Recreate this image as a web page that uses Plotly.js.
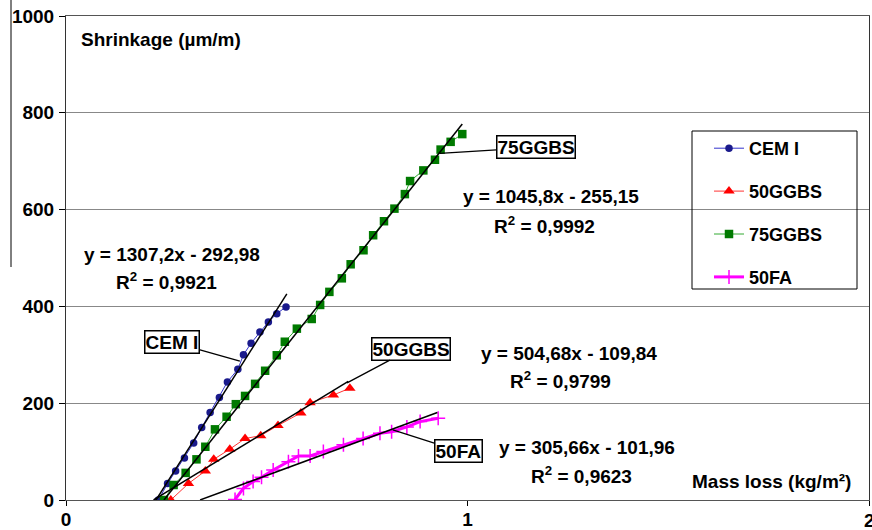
<!DOCTYPE html>
<html>
<head>
<meta charset="utf-8">
<script src="https://cdn.plot.ly/plotly-3.0.1.min.js"></script>
<style>html,body{margin:0;padding:0;background:#fff;}#chart{width:872px;height:530px;}</style>
</head>
<body>
<div id="chart"></div>
<script>
// ---- data ----
const seriesNames = ["CEM I", "50GGBS", "75GGBS", "50FA"];

const cemX = [0.230,0.253,0.273,0.295,0.318,0.338,0.359,0.382,0.402,0.428,0.442,0.461,0.483,0.504,0.525,0.548];
const cemY = [0,34,60,87,118,150,181,212,244,270,300,324,347,368,385,399];

const g50X = [0.261,0.305,0.347,0.368,0.408,0.446,0.485,0.528,0.585,0.608,0.666,0.707];
const g50Y = [0,34,60,84,105,127,133,154,180,201,217,231];

const g75X = [0.244,0.268,0.298,0.325,0.347,0.371,0.400,0.423,0.446,0.471,0.496,0.525,0.545,0.575,0.612,0.633,0.656,0.687,0.709,0.741,0.765,0.792,0.818,0.844,0.857,0.890,0.919,0.933,0.958,0.987];
const g75Y = [0,31,56,84,110,146,172,198,215,240,267,299,327,354,374,403,430,458,487,516,547,576,602,632,659,681,703,724,740,756];

const faX = [0.421,0.442,0.466,0.487,0.516,0.554,0.579,0.608,0.641,0.691,0.740,0.782,0.811,0.849,0.882,0.927];
const faY = [1,24,38,47,62,79,91,91,100,114,127,138,141,151,162,169];

// linear fits shown on the chart: slope, intercept, x-extent of drawn line
const fitSlope = [1307.2, 504.68, 1045.8, 305.66];
const fitIntercept = [-292.98, -109.84, -255.15, -101.96];
const fitXStart = [0.222, 0.218, 0.244, 0.334];
const fitXEnd = [0.550, 0.703, 0.987, 0.925];
const fitEqText = ["y = 1307,2x - 292,98", "y = 504,68x - 109,84", "y = 1045,8x - 255,15", "y = 305,66x - 101,96"];
const fitR2Text = ["R<sup>2</sup> = 0,9921", "R<sup>2</sup> = 0,9799", "R<sup>2</sup> = 0,9992", "R<sup>2</sup> = 0,9623"];

const xTicks = [0, 1, 2];
const xTickText = ["0", "1", ""];   // "2" sits on the page edge, drawn as a text below
const yTicks = [0, 200, 400, 600, 800, 1000];

// ---- styling ----
const FONT = "Arial, 'Liberation Sans', sans-serif";
const colors = ["#1a1a8c", "#ff0000", "#007a00", "#ff00ff"];
const lineColors = ["#3333cc", "#ff3333", "#33aa33", "#ff00ff"];
const lineW = [1, 1, 1, 3];
const symbols = ["circle", "triangle-up", "square", "cross-thin"];
const msize = [7.5, 10, 8.5, 10];
const xs = [cemX, g50X, g75X, faX];
const ys = [cemY, g50Y, g75Y, faY];

const traces = [];
for (let i = 0; i < 4; i++) {
  traces.push({
    x: xs[i], y: ys[i], type: "scatter", mode: "lines+markers",
    name: seriesNames[i], legendgroup: "g" + i,
    line: {color: lineColors[i], width: lineW[i]},
    marker: {symbol: symbols[i], size: msize[i], color: colors[i],
             line: {color: colors[i], width: i === 3 ? 1.5 : 0}}
  });
}
for (let i = 0; i < 4; i++) {
  const fx = [fitXStart[i], fitXEnd[i]];
  traces.push({
    x: fx, y: fx.map(v => fitSlope[i] * v + fitIntercept[i]),
    type: "scatter", mode: "lines", showlegend: false, hoverinfo: "skip",
    line: {color: "#000", width: 1.5}
  });
}

// pixel -> paper helpers for text placement (plot area 66..869 x, 16..500 y)
const PX = p => (p - 66) / 803;
const PY = p => (500 - p) / 484;

const bold = {family: FONT, size: 19, color: "#000", weight: "bold"};
const eqPos = [[172, 254, 166, 281], [569, 353, 560, 380], [551, 196, 544, 225], [587, 447, 581, 475]];
const annotations = [];
for (let i = 0; i < 4; i++) {
  annotations.push({xref: "paper", yref: "paper", x: PX(eqPos[i][0]), y: PY(eqPos[i][1]),
    text: fitEqText[i], showarrow: false, font: bold, xanchor: "center", yanchor: "middle"});
  annotations.push({xref: "paper", yref: "paper", x: PX(eqPos[i][2]), y: PY(eqPos[i][3]),
    text: fitR2Text[i], showarrow: false, font: bold, xanchor: "center", yanchor: "middle"});
}
// boxed labels with leader lines (tip in data coords, offset in px)
const boxTip = [[0.433, 287, -68, -19], [0.700, 242, 64, -34], [0.931, 716, 96, -6], [0.814, 145, 66, 21]];
const boxText = ["CEM I", "50GGBS", "75GGBS", "50FA"];
for (let i = 0; i < 4; i++) {
  annotations.push({x: boxTip[i][0], y: boxTip[i][1], xref: "x", yref: "y",
    ax: boxTip[i][2], ay: boxTip[i][3], text: boxText[i], showarrow: true,
    arrowhead: 0, arrowwidth: 1.3, arrowcolor: "#000", font: bold,
    bordercolor: "#000", borderwidth: 1.5, borderpad: 0, bgcolor: "#fff"});
}
annotations.push({xref: "paper", yref: "paper", x: PX(79), y: PY(40), text: "Shrinkage (µm/m)",
  showarrow: false, xanchor: "left", yanchor: "middle", font: bold});
annotations.push({xref: "paper", yref: "paper", x: PX(771), y: PY(481), text: "Mass loss (kg/m²)",
  showarrow: false, xanchor: "center", yanchor: "middle", font: bold});
annotations.push({xref: "paper", yref: "paper", x: 1, y: PY(520), text: "2",
  showarrow: false, xanchor: "center", yanchor: "middle", font: bold});

const layout = {
  width: 872, height: 530,
  margin: {l: 66, r: 3, t: 16, b: 30, pad: 0},
  paper_bgcolor: "#fff", plot_bgcolor: "#fff",
  font: {family: FONT, size: 18, color: "#000", weight: "bold"},
  showlegend: true,
  legend: {x: PX(709), y: PY(130), xanchor: "left", yanchor: "top",
    bgcolor: "rgba(0,0,0,0)", borderwidth: 0,
    font: {family: FONT, size: 18, color: "#000", weight: "bold"},
    tracegroupgap: 16.5, traceorder: "grouped"},
  xaxis: {range: [0, 2], tickvals: xTicks, ticktext: xTickText, ticks: "outside", ticklen: 5,
    tickcolor: "#000", showgrid: false, zeroline: false, showline: true, linecolor: "#555",
    linewidth: 1, mirror: true, ticklabelstandoff: -3,
    tickfont: {family: FONT, size: 19, color: "#000", weight: "bold"}},
  yaxis: {range: [0, 1000], tickvals: yTicks, ticktext: yTicks.map(String), ticks: "outside", ticklen: 6,
    tickcolor: "#000", showgrid: true, gridcolor: "#888", gridwidth: 1, zeroline: false,
    showline: true, linecolor: "#333", linewidth: 1, mirror: true, ticklabelstandoff: 1,
    tickfont: {family: FONT, size: 19, color: "#000", weight: "bold"}},
  annotations: annotations,
  shapes: [
    {type: "line", xref: "paper", yref: "paper", x0: PX(11), x1: PX(11), y0: PY(0), y1: PY(267),
     line: {color: "#000", width: 1}},
    {type: "rect", xref: "paper", yref: "paper", x0: PX(692), x1: PX(857), y0: PY(131), y1: PY(289),
     line: {color: "#000", width: 1}, fillcolor: "rgba(0,0,0,0)", layer: "above"}
  ]
};

Plotly.newPlot("chart", traces, layout, {displayModeBar: false, staticPlot: true});
</script>
</body>
</html>
